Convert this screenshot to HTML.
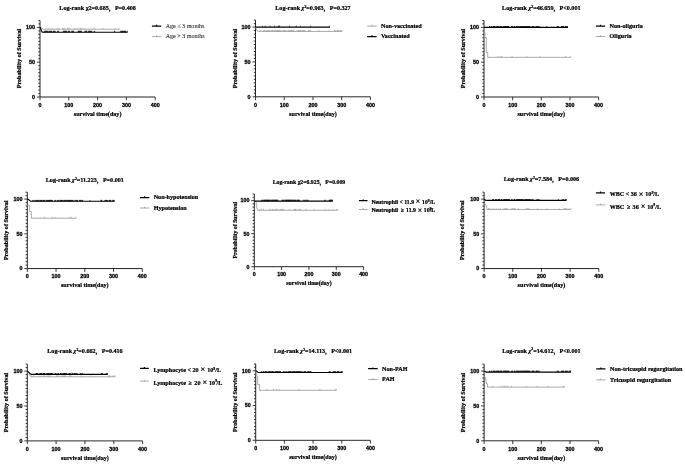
<!DOCTYPE html>
<html><head><meta charset="utf-8"><title>Survival curves</title>
<style>
html,body{margin:0;padding:0;background:#fff}
svg{display:block}
text{white-space:pre}
.tk{font-family:"Liberation Sans", sans-serif;font-weight:bold;fill:#000;stroke:#000;stroke-width:0.27px}
.lb{font-family:"Liberation Serif","Noto Serif CJK SC",serif;font-weight:bold;fill:#000;stroke:#000;stroke-width:0.22px}
.lgn{font-family:"Liberation Serif", serif;font-size:6.05px;fill:#333;stroke:#333;stroke-width:0.1px}
</style></head><body>
<svg width="685" height="465" viewBox="0 0 685 465">
<defs><filter id="bl" x="0" y="0" width="685" height="465" filterUnits="userSpaceOnUse"><feGaussianBlur stdDeviation="0.36"/></filter></defs>
<rect width="685" height="465" fill="#fff"/>
<g filter="url(#bl)">
<g>
<path d="M40.00 20.44V97.00H155.20" fill="none" stroke="#1a1a1a" stroke-width="0.95"/>
<path d="M40.00 97.00h-3.0M40.00 93.52h-1.7M40.00 90.04h-1.7M40.00 86.56h-1.7M40.00 83.08h-1.7M40.00 79.60h-1.7M40.00 76.12h-1.7M40.00 72.64h-1.7M40.00 69.16h-1.7M40.00 65.68h-1.7M40.00 62.20h-3.0M40.00 58.72h-1.7M40.00 55.24h-1.7M40.00 51.76h-1.7M40.00 48.28h-1.7M40.00 44.80h-1.7M40.00 41.32h-1.7M40.00 37.84h-1.7M40.00 34.36h-1.7M40.00 30.88h-1.7M40.00 27.40h-3.0M40.00 23.92h-1.7M40.00 20.44h-1.7M40.00 97.00v3.3M68.80 97.00v3.3M97.60 97.00v3.3M126.40 97.00v3.3M155.20 97.00v3.3" fill="none" stroke="#1a1a1a" stroke-width="0.85"/>
<text transform="translate(35.10 98.89) scale(1 1)" text-anchor="end" class="tk" font-size="5.4">0</text>
<text transform="translate(35.10 64.09) scale(1 1)" text-anchor="end" class="tk" font-size="5.4">50</text>
<text transform="translate(35.10 29.29) scale(1 1)" text-anchor="end" class="tk" font-size="5.4">100</text>
<text transform="translate(40.00 106.60) scale(1 1)" text-anchor="middle" class="tk" font-size="5.4">0</text>
<text transform="translate(68.80 106.60) scale(1 1)" text-anchor="middle" class="tk" font-size="5.4">100</text>
<text transform="translate(97.60 106.60) scale(1 1)" text-anchor="middle" class="tk" font-size="5.4">200</text>
<text transform="translate(126.40 106.60) scale(1 1)" text-anchor="middle" class="tk" font-size="5.4">300</text>
<text transform="translate(155.20 106.60) scale(1 1)" text-anchor="middle" class="tk" font-size="5.4">400</text>
<text transform="translate(97.60 115.80) scale(1 1)" text-anchor="middle" class="lb" font-size="6.12">survival time(day)</text>
<text transform="translate(21.00 58.50) rotate(-90) scale(1 1)" text-anchor="middle" class="lb" font-size="6.12">Probability of Survival</text>
<text transform="translate(97.60 10.20) scale(1 1)" text-anchor="middle" class="lb" font-size="6.12">Log-rank χ2=0.685，P=0.408</text>
<path d="M151.9 26.099999999999998H161.3M156.60 26.099999999999998v-1.3" stroke="#000" stroke-width="1.25" fill="none"/>
<text transform="translate(165.7 27.80) scale(1 1)" class="lgn">Age ≤ 3 months</text>
<path d="M151.9 36.6H161.3M156.60 36.6v-1.3" stroke="#949494" stroke-width="0.8" fill="none"/>
<text transform="translate(165.7 38.40) scale(1 1)" class="lgn">Age &gt; 3 months</text>
<path d="M40.00 27.40L41.15 27.40L41.73 28.44L43.74 29.21L119.20 29.21" stroke="#949494" stroke-width="0.8" fill="none" stroke-linejoin="miter"/>
<path d="M46.05 29.21v-1.35M48.93 29.21v-1.35M52.10 29.21v-1.35M57.57 29.21v-1.35M59.01 29.21v-1.35M62.75 29.21v-1.35M63.62 29.21v-1.35M64.77 29.21v-1.35M67.65 29.21v-1.35M68.51 29.21v-1.35M69.38 29.21v-1.35M74.27 29.21v-1.35M75.71 29.21v-1.35M78.02 29.21v-1.35M80.03 29.21v-1.35M80.90 29.21v-1.35M82.05 29.21v-1.35M84.93 29.21v-1.35M94.72 29.21v-1.35M103.07 29.21v-1.35M114.88 29.21v-1.35M119.20 29.21v-1.35" stroke="#949494" stroke-width="0.6" fill="none"/>
<path d="M40.00 27.40L40.58 28.10L41.44 30.88L42.30 32.20L127.55 32.20" stroke="#000" stroke-width="1.1" fill="none" stroke-linejoin="miter"/>
<path d="M44.32 32.20v-1.4M44.81 32.20v-1.4M45.30 32.20v-1.4M45.79 32.20v-1.4M46.28 32.20v-1.4M46.77 32.20v-1.4M47.26 32.20v-1.4M47.75 32.20v-1.4M48.93 32.20v-1.4M49.42 32.20v-1.4M49.91 32.20v-1.4M50.40 32.20v-1.4M50.89 32.20v-1.4M51.38 32.20v-1.4M51.87 32.20v-1.4M53.25 32.20v-1.4M53.74 32.20v-1.4M54.23 32.20v-1.4M54.72 32.20v-1.4M55.21 32.20v-1.4M57.57 32.20v-1.4M58.06 32.20v-1.4M58.55 32.20v-1.4M63.33 32.20v-1.4M63.82 32.20v-1.4M64.31 32.20v-1.4M64.80 32.20v-1.4M65.29 32.20v-1.4M65.78 32.20v-1.4M66.27 32.20v-1.4M66.76 32.20v-1.4M68.22 32.20v-1.4M68.71 32.20v-1.4M69.20 32.20v-1.4M69.69 32.20v-1.4M71.68 32.20v-1.4M72.17 32.20v-1.4M72.66 32.20v-1.4M73.15 32.20v-1.4M73.64 32.20v-1.4M78.02 32.20v-1.4M78.51 32.20v-1.4M79.00 32.20v-1.4M79.48 32.20v-1.4M79.97 32.20v-1.4M80.46 32.20v-1.4M80.95 32.20v-1.4M81.44 32.20v-1.4M84.93 32.20v-1.4M85.42 32.20v-1.4M85.91 32.20v-1.4M86.40 32.20v-1.4M86.89 32.20v-1.4M88.38 32.20v-1.4M88.87 32.20v-1.4M89.36 32.20v-1.4M89.85 32.20v-1.4M90.34 32.20v-1.4M90.83 32.20v-1.4M91.32 32.20v-1.4M91.81 32.20v-1.4M94.14 32.20v-1.4M94.63 32.20v-1.4M114.30 32.20v-1.4M114.79 32.20v-1.4M120.64 32.20v-1.4M121.13 32.20v-1.4M121.62 32.20v-1.4M122.11 32.20v-1.4M122.60 32.20v-1.4M123.09 32.20v-1.4M123.58 32.20v-1.4M124.07 32.20v-1.4M124.56 32.20v-1.4M125.05 32.20v-1.4M125.54 32.20v-1.4M126.03 32.20v-1.4M127.55 32.20v-1.4" stroke="#000" stroke-width="0.65" fill="none"/>
</g>
<g>
<path d="M255.50 20.13V96.80H370.40" fill="none" stroke="#1a1a1a" stroke-width="0.95"/>
<path d="M255.50 96.80h-3.0M255.50 93.31h-1.7M255.50 89.83h-1.7M255.50 86.34h-1.7M255.50 82.86h-1.7M255.50 79.38h-1.7M255.50 75.89h-1.7M255.50 72.41h-1.7M255.50 68.92h-1.7M255.50 65.44h-1.7M255.50 61.95h-3.0M255.50 58.47h-1.7M255.50 54.98h-1.7M255.50 51.50h-1.7M255.50 48.01h-1.7M255.50 44.53h-1.7M255.50 41.04h-1.7M255.50 37.56h-1.7M255.50 34.07h-1.7M255.50 30.59h-1.7M255.50 27.10h-3.0M255.50 23.62h-1.7M255.50 20.13h-1.7M255.50 96.80v3.3M284.23 96.80v3.3M312.95 96.80v3.3M341.67 96.80v3.3M370.40 96.80v3.3" fill="none" stroke="#1a1a1a" stroke-width="0.85"/>
<text transform="translate(250.60 98.69) scale(1 1)" text-anchor="end" class="tk" font-size="5.4">0</text>
<text transform="translate(250.60 63.84) scale(1 1)" text-anchor="end" class="tk" font-size="5.4">50</text>
<text transform="translate(250.60 28.99) scale(1 1)" text-anchor="end" class="tk" font-size="5.4">100</text>
<text transform="translate(255.50 106.60) scale(1 1)" text-anchor="middle" class="tk" font-size="5.4">0</text>
<text transform="translate(284.23 106.60) scale(1 1)" text-anchor="middle" class="tk" font-size="5.4">100</text>
<text transform="translate(312.95 106.60) scale(1 1)" text-anchor="middle" class="tk" font-size="5.4">200</text>
<text transform="translate(341.67 106.60) scale(1 1)" text-anchor="middle" class="tk" font-size="5.4">300</text>
<text transform="translate(370.40 106.60) scale(1 1)" text-anchor="middle" class="tk" font-size="5.4">400</text>
<text transform="translate(312.95 115.80) scale(1 1)" text-anchor="middle" class="lb" font-size="6.12">survival time(day)</text>
<text transform="translate(236.60 58.50) rotate(-90) scale(1 1)" text-anchor="middle" class="lb" font-size="6.12">Probability of Survival</text>
<text transform="translate(312.95 10.20) scale(1 1)" text-anchor="middle" class="lb" font-size="6.12">Log-rank <tspan font-style="italic">χ</tspan><tspan dy="-2.2" font-size="3.8">2</tspan><tspan dy="2.2">=0.963，P=0.327</tspan></text>
<path d="M367.2 26.099999999999998H376.6M371.90 26.099999999999998v-1.3" stroke="#949494" stroke-width="0.8" fill="none"/>
<text transform="translate(381 27.60) scale(1 1)" class="lb" font-size="6.12">Non-vaccinated</text>
<path d="M367.2 36.5H376.6M371.90 36.5v-1.3" stroke="#000" stroke-width="1.25" fill="none"/>
<text transform="translate(381 38.00) scale(1 1)" class="lb" font-size="6.12">Vaccinated</text>
<path d="M255.50 27.10L256.07 28.49L256.94 30.59L258.37 31.42L342.25 31.42" stroke="#949494" stroke-width="0.8" fill="none" stroke-linejoin="miter"/>
<path d="M260.01 31.42v-1.35M263.54 31.42v-1.35M264.20 31.42v-1.35M264.86 31.42v-1.35M266.30 31.42v-1.35M266.96 31.42v-1.35M267.62 31.42v-1.35M268.28 31.42v-1.35M268.94 31.42v-1.35M269.60 31.42v-1.35M271.21 31.42v-1.35M271.87 31.42v-1.35M272.53 31.42v-1.35M273.19 31.42v-1.35M274.75 31.42v-1.35M275.41 31.42v-1.35M276.07 31.42v-1.35M276.73 31.42v-1.35M277.39 31.42v-1.35M278.05 31.42v-1.35M278.71 31.42v-1.35M279.37 31.42v-1.35M280.03 31.42v-1.35M280.69 31.42v-1.35M282.70 31.42v-1.35M283.36 31.42v-1.35M284.02 31.42v-1.35M284.68 31.42v-1.35M285.35 31.42v-1.35M286.01 31.42v-1.35M288.05 31.42v-1.35M288.71 31.42v-1.35M289.37 31.42v-1.35M290.03 31.42v-1.35M290.69 31.42v-1.35M291.35 31.42v-1.35M292.01 31.42v-1.35M292.67 31.42v-1.35M293.33 31.42v-1.35M293.99 31.42v-1.35M297.15 31.42v-1.35M297.81 31.42v-1.35M298.47 31.42v-1.35M299.13 31.42v-1.35M299.79 31.42v-1.35M300.45 31.42v-1.35M301.12 31.42v-1.35M302.32 31.42v-1.35M302.98 31.42v-1.35M303.64 31.42v-1.35M304.30 31.42v-1.35M304.96 31.42v-1.35M308.35 31.42v-1.35M309.01 31.42v-1.35M309.68 31.42v-1.35M310.34 31.42v-1.35M318.87 31.42v-1.35M329.38 31.42v-1.35M334.29 31.42v-1.35M334.95 31.42v-1.35M335.61 31.42v-1.35M337.08 31.42v-1.35M337.74 31.42v-1.35M338.40 31.42v-1.35M339.06 31.42v-1.35M340.58 31.42v-1.35M341.24 31.42v-1.35M341.90 31.42v-1.35" stroke="#949494" stroke-width="0.6" fill="none"/>
<path d="M255.50 27.10L329.90 27.10" stroke="#000" stroke-width="1.1" fill="none" stroke-linejoin="miter"/>
<path d="M262.39 27.10v-1.4M265.12 27.10v-1.4M270.15 27.10v-1.4M274.63 27.10v-1.4M278.19 27.10v-1.4M278.91 27.10v-1.4M279.63 27.10v-1.4M289.40 27.10v-1.4M296.29 27.10v-1.4M300.31 27.10v-1.4M310.65 27.10v-1.4M329.32 27.10v-1.4" stroke="#000" stroke-width="0.65" fill="none"/>
</g>
<g>
<path d="M484.00 20.44V97.00H598.60" fill="none" stroke="#1a1a1a" stroke-width="0.95"/>
<path d="M484.00 97.00h-3.0M484.00 93.52h-1.7M484.00 90.04h-1.7M484.00 86.56h-1.7M484.00 83.08h-1.7M484.00 79.60h-1.7M484.00 76.12h-1.7M484.00 72.64h-1.7M484.00 69.16h-1.7M484.00 65.68h-1.7M484.00 62.20h-3.0M484.00 58.72h-1.7M484.00 55.24h-1.7M484.00 51.76h-1.7M484.00 48.28h-1.7M484.00 44.80h-1.7M484.00 41.32h-1.7M484.00 37.84h-1.7M484.00 34.36h-1.7M484.00 30.88h-1.7M484.00 27.40h-3.0M484.00 23.92h-1.7M484.00 20.44h-1.7M484.00 97.00v3.3M512.65 97.00v3.3M541.30 97.00v3.3M569.95 97.00v3.3M598.60 97.00v3.3" fill="none" stroke="#1a1a1a" stroke-width="0.85"/>
<text transform="translate(479.10 98.89) scale(1 1)" text-anchor="end" class="tk" font-size="5.4">0</text>
<text transform="translate(479.10 64.09) scale(1 1)" text-anchor="end" class="tk" font-size="5.4">50</text>
<text transform="translate(479.10 29.29) scale(1 1)" text-anchor="end" class="tk" font-size="5.4">100</text>
<text transform="translate(484.00 106.60) scale(1 1)" text-anchor="middle" class="tk" font-size="5.4">0</text>
<text transform="translate(512.65 106.60) scale(1 1)" text-anchor="middle" class="tk" font-size="5.4">100</text>
<text transform="translate(541.30 106.60) scale(1 1)" text-anchor="middle" class="tk" font-size="5.4">200</text>
<text transform="translate(569.95 106.60) scale(1 1)" text-anchor="middle" class="tk" font-size="5.4">300</text>
<text transform="translate(598.60 106.60) scale(1 1)" text-anchor="middle" class="tk" font-size="5.4">400</text>
<text transform="translate(541.30 115.80) scale(1 1)" text-anchor="middle" class="lb" font-size="6.12">survival time(day)</text>
<text transform="translate(464.50 58.50) rotate(-90) scale(1 1)" text-anchor="middle" class="lb" font-size="6.12">Probability of Survival</text>
<text transform="translate(541.30 9.70) scale(1 1)" text-anchor="middle" class="lb" font-size="6.12">Log-rank <tspan font-style="italic">χ</tspan><tspan dy="-2.2" font-size="3.8">2</tspan><tspan dy="2.2">=46.659，P&lt;0.001</tspan></text>
<path d="M595.8 26.099999999999998H605.2M600.50 26.099999999999998v-1.3" stroke="#000" stroke-width="1.25" fill="none"/>
<text transform="translate(609.6 27.60) scale(1 1)" class="lb" font-size="6.12">Non-oliguria</text>
<path d="M595.8 36.5H605.2M600.50 36.5v-1.3" stroke="#949494" stroke-width="0.8" fill="none"/>
<text transform="translate(609.6 38.00) scale(1 1)" class="lb" font-size="6.12">Oliguria</text>
<path d="M484.00 27.40L484.29 32.27L484.86 32.27L484.86 37.49L486.29 37.49L486.29 52.46L487.72 52.46L487.72 57.33L570.81 57.33" stroke="#949494" stroke-width="0.8" fill="none" stroke-linejoin="miter"/>
<path d="M497.75 57.33v-1.35M500.04 57.33v-1.35M501.76 57.33v-1.35M512.08 57.33v-1.35M526.98 57.33v-1.35M539.87 57.33v-1.35M565.65 57.33v-1.35M570.81 57.33v-1.35" stroke="#949494" stroke-width="0.6" fill="none"/>
<path d="M484.00 27.40L567.94 27.40" stroke="#000" stroke-width="1.1" fill="none" stroke-linejoin="miter"/>
<path d="M489.44 27.40v-1.4M489.93 27.40v-1.4M491.45 27.40v-1.4M491.94 27.40v-1.4M493.17 27.40v-1.4M493.66 27.40v-1.4M494.14 27.40v-1.4M494.63 27.40v-1.4M495.12 27.40v-1.4M496.32 27.40v-1.4M496.81 27.40v-1.4M497.29 27.40v-1.4M497.78 27.40v-1.4M498.27 27.40v-1.4M498.75 27.40v-1.4M499.76 27.40v-1.4M500.24 27.40v-1.4M500.73 27.40v-1.4M501.22 27.40v-1.4M501.71 27.40v-1.4M503.20 27.40v-1.4M503.68 27.40v-1.4M504.17 27.40v-1.4M504.66 27.40v-1.4M505.14 27.40v-1.4M505.63 27.40v-1.4M506.12 27.40v-1.4M506.60 27.40v-1.4M507.09 27.40v-1.4M507.58 27.40v-1.4M508.07 27.40v-1.4M508.55 27.40v-1.4M509.04 27.40v-1.4M511.50 27.40v-1.4M511.99 27.40v-1.4M512.48 27.40v-1.4M514.08 27.40v-1.4M514.57 27.40v-1.4M515.06 27.40v-1.4M516.37 27.40v-1.4M516.86 27.40v-1.4M517.35 27.40v-1.4M517.84 27.40v-1.4M518.32 27.40v-1.4M518.81 27.40v-1.4M519.30 27.40v-1.4M520.39 27.40v-1.4M520.87 27.40v-1.4M521.36 27.40v-1.4M521.85 27.40v-1.4M522.33 27.40v-1.4M522.82 27.40v-1.4M523.31 27.40v-1.4M524.11 27.40v-1.4M524.60 27.40v-1.4M525.08 27.40v-1.4M525.57 27.40v-1.4M526.06 27.40v-1.4M526.55 27.40v-1.4M527.03 27.40v-1.4M527.52 27.40v-1.4M528.01 27.40v-1.4M528.49 27.40v-1.4M528.98 27.40v-1.4M529.47 27.40v-1.4M530.70 27.40v-1.4M532.13 27.40v-1.4M532.62 27.40v-1.4M533.11 27.40v-1.4M533.59 27.40v-1.4M534.08 27.40v-1.4M535.86 27.40v-1.4M536.34 27.40v-1.4M536.83 27.40v-1.4M537.32 27.40v-1.4M537.80 27.40v-1.4M538.72 27.40v-1.4M539.21 27.40v-1.4M557.34 27.40v-1.4M557.83 27.40v-1.4M558.32 27.40v-1.4M561.36 27.40v-1.4M561.84 27.40v-1.4M562.33 27.40v-1.4M562.82 27.40v-1.4M563.30 27.40v-1.4M563.79 27.40v-1.4M565.37 27.40v-1.4M565.85 27.40v-1.4M566.34 27.40v-1.4M566.83 27.40v-1.4M567.31 27.40v-1.4M546.74 27.40v-1.4" stroke="#000" stroke-width="0.65" fill="none"/>
</g>
<g>
<path d="M27.30 192.16V268.55H142.30" fill="none" stroke="#1a1a1a" stroke-width="0.95"/>
<path d="M27.30 268.55h-3.0M27.30 265.08h-1.7M27.30 261.61h-1.7M27.30 258.13h-1.7M27.30 254.66h-1.7M27.30 251.19h-1.7M27.30 247.72h-1.7M27.30 244.24h-1.7M27.30 240.77h-1.7M27.30 237.30h-1.7M27.30 233.82h-3.0M27.30 230.35h-1.7M27.30 226.88h-1.7M27.30 223.41h-1.7M27.30 219.94h-1.7M27.30 216.46h-1.7M27.30 212.99h-1.7M27.30 209.52h-1.7M27.30 206.05h-1.7M27.30 202.57h-1.7M27.30 199.10h-3.0M27.30 195.63h-1.7M27.30 192.16h-1.7M27.30 268.55v3.3M56.05 268.55v3.3M84.80 268.55v3.3M113.55 268.55v3.3M142.30 268.55v3.3" fill="none" stroke="#1a1a1a" stroke-width="0.85"/>
<text transform="translate(22.40 270.44) scale(1 1)" text-anchor="end" class="tk" font-size="5.4">0</text>
<text transform="translate(22.40 235.72) scale(1 1)" text-anchor="end" class="tk" font-size="5.4">50</text>
<text transform="translate(22.40 200.99) scale(1 1)" text-anchor="end" class="tk" font-size="5.4">100</text>
<text transform="translate(27.30 278.20) scale(1 1)" text-anchor="middle" class="tk" font-size="5.4">0</text>
<text transform="translate(56.05 278.20) scale(1 1)" text-anchor="middle" class="tk" font-size="5.4">100</text>
<text transform="translate(84.80 278.20) scale(1 1)" text-anchor="middle" class="tk" font-size="5.4">200</text>
<text transform="translate(113.55 278.20) scale(1 1)" text-anchor="middle" class="tk" font-size="5.4">300</text>
<text transform="translate(142.30 278.20) scale(1 1)" text-anchor="middle" class="tk" font-size="5.4">400</text>
<text transform="translate(84.80 287.00) scale(1 1)" text-anchor="middle" class="lb" font-size="6.12">survival time(day)</text>
<text transform="translate(8.00 230.30) rotate(-90) scale(1 1)" text-anchor="middle" class="lb" font-size="6.12">Probability of Survival</text>
<text transform="translate(84.80 181.70) scale(1 1)" text-anchor="middle" class="lb" font-size="6.12">Log-rank <tspan font-style="italic">χ</tspan><tspan dy="-2.2" font-size="3.8">2</tspan><tspan dy="2.2">=11.223，P=0.001</tspan></text>
<path d="M139.9 197.5H149.3M144.60 197.5v-1.3" stroke="#000" stroke-width="1.25" fill="none"/>
<text transform="translate(153.7 199.25) scale(1 1)" class="lb" font-size="6.12">Non-hypotension</text>
<path d="M139.9 208.0H149.3M144.60 208.0v-1.3" stroke="#949494" stroke-width="0.8" fill="none"/>
<text transform="translate(153.7 209.50) scale(1 1)" class="lb" font-size="6.12">Hypotension</text>
<path d="M27.30 205.35L29.60 205.35L29.60 211.60L31.33 211.60L31.33 218.20L76.18 218.20" stroke="#949494" stroke-width="0.8" fill="none" stroke-linejoin="miter"/>
<path d="M44.55 218.20v-1.35M52.03 218.20v-1.35M54.90 218.20v-1.35M69.85 218.20v-1.35M71.29 218.20v-1.35M76.18 218.20v-1.35" stroke="#949494" stroke-width="0.6" fill="none"/>
<path d="M27.30 199.10L28.45 199.45L29.60 200.49L30.75 201.32L114.70 201.32" stroke="#000" stroke-width="1.1" fill="none" stroke-linejoin="miter"/>
<path d="M32.76 201.32v-1.4M33.25 201.32v-1.4M34.77 201.32v-1.4M35.26 201.32v-1.4M36.50 201.32v-1.4M36.99 201.32v-1.4M37.48 201.32v-1.4M37.97 201.32v-1.4M38.46 201.32v-1.4M39.66 201.32v-1.4M40.15 201.32v-1.4M40.64 201.32v-1.4M41.13 201.32v-1.4M41.62 201.32v-1.4M42.11 201.32v-1.4M43.11 201.32v-1.4M43.60 201.32v-1.4M44.09 201.32v-1.4M44.58 201.32v-1.4M45.07 201.32v-1.4M46.56 201.32v-1.4M47.05 201.32v-1.4M47.54 201.32v-1.4M48.03 201.32v-1.4M48.52 201.32v-1.4M49.01 201.32v-1.4M49.50 201.32v-1.4M49.98 201.32v-1.4M50.47 201.32v-1.4M50.96 201.32v-1.4M51.45 201.32v-1.4M51.94 201.32v-1.4M52.43 201.32v-1.4M54.90 201.32v-1.4M55.39 201.32v-1.4M55.88 201.32v-1.4M57.49 201.32v-1.4M57.98 201.32v-1.4M58.47 201.32v-1.4M59.79 201.32v-1.4M60.28 201.32v-1.4M60.77 201.32v-1.4M61.25 201.32v-1.4M61.74 201.32v-1.4M62.23 201.32v-1.4M62.72 201.32v-1.4M63.81 201.32v-1.4M64.30 201.32v-1.4M64.79 201.32v-1.4M65.28 201.32v-1.4M65.77 201.32v-1.4M66.26 201.32v-1.4M66.74 201.32v-1.4M67.55 201.32v-1.4M68.04 201.32v-1.4M68.53 201.32v-1.4M69.02 201.32v-1.4M69.50 201.32v-1.4M69.99 201.32v-1.4M70.48 201.32v-1.4M70.97 201.32v-1.4M71.46 201.32v-1.4M71.95 201.32v-1.4M72.44 201.32v-1.4M72.93 201.32v-1.4M74.16 201.32v-1.4M75.60 201.32v-1.4M76.09 201.32v-1.4M76.58 201.32v-1.4M77.07 201.32v-1.4M77.55 201.32v-1.4M79.34 201.32v-1.4M79.83 201.32v-1.4M80.31 201.32v-1.4M80.80 201.32v-1.4M81.29 201.32v-1.4M82.21 201.32v-1.4M82.70 201.32v-1.4M100.90 201.32v-1.4M101.39 201.32v-1.4M101.88 201.32v-1.4M104.93 201.32v-1.4M105.41 201.32v-1.4M105.90 201.32v-1.4M106.39 201.32v-1.4M106.88 201.32v-1.4M107.37 201.32v-1.4M108.95 201.32v-1.4M109.44 201.32v-1.4M109.93 201.32v-1.4M110.42 201.32v-1.4M110.90 201.32v-1.4M112.69 201.32v-1.4M113.18 201.32v-1.4M113.67 201.32v-1.4M114.15 201.32v-1.4M89.98 201.32v-1.4" stroke="#000" stroke-width="0.65" fill="none"/>
</g>
<g>
<path d="M254.30 193.99V266.70H363.60" fill="none" stroke="#1a1a1a" stroke-width="0.95"/>
<path d="M254.30 266.70h-3.0M254.30 263.39h-1.7M254.30 260.09h-1.7M254.30 256.78h-1.7M254.30 253.48h-1.7M254.30 250.17h-1.7M254.30 246.87h-1.7M254.30 243.56h-1.7M254.30 240.26h-1.7M254.30 236.95h-1.7M254.30 233.65h-3.0M254.30 230.34h-1.7M254.30 227.04h-1.7M254.30 223.73h-1.7M254.30 220.43h-1.7M254.30 217.12h-1.7M254.30 213.82h-1.7M254.30 210.51h-1.7M254.30 207.21h-1.7M254.30 203.91h-1.7M254.30 200.60h-3.0M254.30 197.30h-1.7M254.30 193.99h-1.7M254.30 266.70v3.3M281.62 266.70v3.3M308.95 266.70v3.3M336.28 266.70v3.3M363.60 266.70v3.3" fill="none" stroke="#1a1a1a" stroke-width="0.85"/>
<text transform="translate(249.40 268.56) scale(1 1)" text-anchor="end" class="tk" font-size="5.3">0</text>
<text transform="translate(249.40 235.51) scale(1 1)" text-anchor="end" class="tk" font-size="5.3">50</text>
<text transform="translate(249.40 202.46) scale(1 1)" text-anchor="end" class="tk" font-size="5.3">100</text>
<text transform="translate(254.30 275.60) scale(1 1)" text-anchor="middle" class="tk" font-size="5.3">0</text>
<text transform="translate(281.62 275.60) scale(1 1)" text-anchor="middle" class="tk" font-size="5.3">100</text>
<text transform="translate(308.95 275.60) scale(1 1)" text-anchor="middle" class="tk" font-size="5.3">200</text>
<text transform="translate(336.28 275.60) scale(1 1)" text-anchor="middle" class="tk" font-size="5.3">300</text>
<text transform="translate(363.60 275.60) scale(1 1)" text-anchor="middle" class="tk" font-size="5.3">400</text>
<text transform="translate(308.95 285.00) scale(1 1)" text-anchor="middle" class="lb" font-size="5.8">survival time(day)</text>
<text transform="translate(236.50 230.20) rotate(-90) scale(1 1)" text-anchor="middle" class="lb" font-size="5.8">Probability of Survival</text>
<text transform="translate(308.95 184.30) scale(1 1)" text-anchor="middle" class="lb" font-size="5.8">Log-rank χ2=6.925，P=0.009</text>
<path d="M358.9 200.7H367.5M363.20 200.7v-1.3" stroke="#000" stroke-width="1.25" fill="none"/>
<text transform="translate(371.4 203.80) scale(1 1)" class="lb" font-size="5.75">Neutrophil &lt; 11.9 <tspan font-size="7.59" dx="0.4" dy="0.6">×</tspan><tspan dx="0.4" dy="-0.6"> 10</tspan><tspan dy="-2.2" font-size="3.8">9</tspan><tspan dy="2.2" dx="0.0">/L</tspan></text>
<path d="M358.9 209.5H367.5M363.20 209.5v-1.3" stroke="#949494" stroke-width="0.8" fill="none"/>
<text transform="translate(371.4 212.30) scale(1 1)" class="lb" font-size="5.75">Neutrophil <tspan dx="1.1">≥</tspan><tspan dx="0.85"> 11.9</tspan> <tspan font-size="7.59" dx="0.4" dy="0.6">×</tspan><tspan dx="0.4" dy="-0.6"> 10</tspan><tspan dy="-2.2" font-size="3.8">9</tspan><tspan dy="2.2" dx="-1.8">/L</tspan></text>
<path d="M254.30 200.60L255.94 201.26L256.49 205.89L257.03 208.53L257.85 210.25L337.64 210.25" stroke="#949494" stroke-width="0.8" fill="none" stroke-linejoin="miter"/>
<path d="M259.76 210.25v-1.35M261.13 210.25v-1.35M263.32 210.25v-1.35M269.60 210.25v-1.35M270.15 210.25v-1.35M272.33 210.25v-1.35M273.02 210.25v-1.35M275.07 210.25v-1.35M275.89 210.25v-1.35M276.71 210.25v-1.35M277.25 210.25v-1.35M279.99 210.25v-1.35M280.81 210.25v-1.35M281.62 210.25v-1.35M282.44 210.25v-1.35M283.26 210.25v-1.35M284.08 210.25v-1.35M289.82 210.25v-1.35M294.06 210.25v-1.35M294.74 210.25v-1.35M295.56 210.25v-1.35M296.11 210.25v-1.35M298.98 210.25v-1.35M299.66 210.25v-1.35M300.34 210.25v-1.35M305.94 210.25v-1.35M314.42 210.25v-1.35M324.80 210.25v-1.35M329.06 210.25v-1.35M333.27 210.25v-1.35M336.82 210.25v-1.35M337.64 210.25v-1.35" stroke="#949494" stroke-width="0.6" fill="none"/>
<path d="M254.30 201.13L332.72 201.13" stroke="#000" stroke-width="1.1" fill="none" stroke-linejoin="miter"/>
<path d="M261.81 201.13v-1.4M262.28 201.13v-1.4M262.74 201.13v-1.4M263.86 201.13v-1.4M264.33 201.13v-1.4M264.79 201.13v-1.4M265.26 201.13v-1.4M265.72 201.13v-1.4M266.19 201.13v-1.4M266.65 201.13v-1.4M267.12 201.13v-1.4M267.58 201.13v-1.4M268.04 201.13v-1.4M268.51 201.13v-1.4M268.97 201.13v-1.4M269.44 201.13v-1.4M269.90 201.13v-1.4M270.97 201.13v-1.4M271.43 201.13v-1.4M271.90 201.13v-1.4M272.36 201.13v-1.4M272.83 201.13v-1.4M273.29 201.13v-1.4M273.76 201.13v-1.4M274.22 201.13v-1.4M274.68 201.13v-1.4M275.15 201.13v-1.4M275.61 201.13v-1.4M276.08 201.13v-1.4M276.54 201.13v-1.4M277.01 201.13v-1.4M277.47 201.13v-1.4M277.94 201.13v-1.4M282.17 201.13v-1.4M282.64 201.13v-1.4M283.10 201.13v-1.4M283.57 201.13v-1.4M284.90 201.13v-1.4M285.37 201.13v-1.4M285.83 201.13v-1.4M286.30 201.13v-1.4M286.76 201.13v-1.4M287.23 201.13v-1.4M287.69 201.13v-1.4M288.16 201.13v-1.4M288.62 201.13v-1.4M289.08 201.13v-1.4M289.55 201.13v-1.4M290.01 201.13v-1.4M290.48 201.13v-1.4M290.94 201.13v-1.4M291.41 201.13v-1.4M291.87 201.13v-1.4M292.34 201.13v-1.4M293.37 201.13v-1.4M293.84 201.13v-1.4M294.30 201.13v-1.4M294.77 201.13v-1.4M295.23 201.13v-1.4M295.70 201.13v-1.4M296.93 201.13v-1.4M297.39 201.13v-1.4M297.86 201.13v-1.4M298.32 201.13v-1.4M298.79 201.13v-1.4M299.25 201.13v-1.4M303.76 201.13v-1.4M304.22 201.13v-1.4M305.67 201.13v-1.4M306.14 201.13v-1.4M307.58 201.13v-1.4M308.05 201.13v-1.4M324.80 201.13v-1.4M325.26 201.13v-1.4M329.17 201.13v-1.4M329.64 201.13v-1.4M330.10 201.13v-1.4M330.56 201.13v-1.4M331.03 201.13v-1.4M331.49 201.13v-1.4M331.96 201.13v-1.4M332.42 201.13v-1.4" stroke="#000" stroke-width="0.65" fill="none"/>
</g>
<g>
<path d="M484.10 192.16V268.55H598.80" fill="none" stroke="#1a1a1a" stroke-width="0.95"/>
<path d="M484.10 268.55h-3.0M484.10 265.08h-1.7M484.10 261.61h-1.7M484.10 258.13h-1.7M484.10 254.66h-1.7M484.10 251.19h-1.7M484.10 247.72h-1.7M484.10 244.24h-1.7M484.10 240.77h-1.7M484.10 237.30h-1.7M484.10 233.82h-3.0M484.10 230.35h-1.7M484.10 226.88h-1.7M484.10 223.41h-1.7M484.10 219.94h-1.7M484.10 216.46h-1.7M484.10 212.99h-1.7M484.10 209.52h-1.7M484.10 206.05h-1.7M484.10 202.57h-1.7M484.10 199.10h-3.0M484.10 195.63h-1.7M484.10 192.16h-1.7M484.10 268.55v3.3M512.77 268.55v3.3M541.45 268.55v3.3M570.12 268.55v3.3M598.80 268.55v3.3" fill="none" stroke="#1a1a1a" stroke-width="0.85"/>
<text transform="translate(479.20 270.44) scale(1 1)" text-anchor="end" class="tk" font-size="5.4">0</text>
<text transform="translate(479.20 235.72) scale(1 1)" text-anchor="end" class="tk" font-size="5.4">50</text>
<text transform="translate(479.20 200.99) scale(1 1)" text-anchor="end" class="tk" font-size="5.4">100</text>
<text transform="translate(484.10 278.20) scale(1 1)" text-anchor="middle" class="tk" font-size="5.4">0</text>
<text transform="translate(512.77 278.20) scale(1 1)" text-anchor="middle" class="tk" font-size="5.4">100</text>
<text transform="translate(541.45 278.20) scale(1 1)" text-anchor="middle" class="tk" font-size="5.4">200</text>
<text transform="translate(570.12 278.20) scale(1 1)" text-anchor="middle" class="tk" font-size="5.4">300</text>
<text transform="translate(598.80 278.20) scale(1 1)" text-anchor="middle" class="tk" font-size="5.4">400</text>
<text transform="translate(541.45 287.00) scale(1 1)" text-anchor="middle" class="lb" font-size="6.12">survival time(day)</text>
<text transform="translate(464.30 230.30) rotate(-90) scale(1 1)" text-anchor="middle" class="lb" font-size="6.12">Probability of Survival</text>
<text transform="translate(541.45 181.40) scale(1 1)" text-anchor="middle" class="lb" font-size="6.12">Log-rank <tspan font-style="italic">χ</tspan><tspan dy="-2.2" font-size="3.8">2</tspan><tspan dy="2.2">=7.584，P=0.006</tspan></text>
<path d="M595.9 192.89999999999998H605.1M600.50 192.89999999999998v-1.3" stroke="#000" stroke-width="1.25" fill="none"/>
<text transform="translate(609.7 196.40) scale(1 1)" class="lb" font-size="6.1">WBC &lt; 36 <tspan font-size="8.05" dx="0.4" dy="0.6">×</tspan><tspan dx="0.4" dy="-0.6"> 10</tspan><tspan dy="-2.2" font-size="3.8">9</tspan><tspan dy="2.2" dx="0.0">/L</tspan></text>
<path d="M595.9 204.89999999999998H605.1M600.50 204.89999999999998v-1.3" stroke="#949494" stroke-width="0.8" fill="none"/>
<text transform="translate(609.7 208.60) scale(1 1)" class="lb" font-size="6.1">WBC <tspan dx="1.1">≥</tspan><tspan dx="0.85"> 36</tspan> <tspan font-size="8.05" dx="0.4" dy="0.6">×</tspan><tspan dx="0.4" dy="-0.6"> 10</tspan><tspan dy="-2.2" font-size="3.8">9</tspan><tspan dy="2.2" dx="0.15">/L</tspan></text>
<path d="M484.10 203.27L484.96 203.96L485.82 204.66L486.39 207.43L487.25 209.52L570.99 209.52" stroke="#949494" stroke-width="0.8" fill="none" stroke-linejoin="miter"/>
<path d="M488.52 209.52v-1.35M489.63 209.52v-1.35M491.99 209.52v-1.35M494.11 209.52v-1.35M496.20 209.52v-1.35M498.29 209.52v-1.35M500.39 209.52v-1.35M503.89 209.52v-1.35M504.75 209.52v-1.35M505.61 209.52v-1.35M506.47 209.52v-1.35M507.33 209.52v-1.35M511.63 209.52v-1.35M512.49 209.52v-1.35M513.35 209.52v-1.35M514.21 209.52v-1.35M515.07 209.52v-1.35M518.51 209.52v-1.35M526.25 209.52v-1.35M527.11 209.52v-1.35M528.12 209.52v-1.35M529.06 209.52v-1.35M537.44 209.52v-1.35M547.18 209.52v-1.35M559.11 209.52v-1.35M563.99 209.52v-1.35M564.96 209.52v-1.35M565.82 209.52v-1.35M566.80 209.52v-1.35M568.89 209.52v-1.35M570.99 209.52v-1.35" stroke="#949494" stroke-width="0.6" fill="none"/>
<path d="M484.10 199.10L484.96 199.79L485.82 200.42L566.40 200.42" stroke="#000" stroke-width="1.1" fill="none" stroke-linejoin="miter"/>
<path d="M492.70 200.42v-1.4M493.19 200.42v-1.4M493.68 200.42v-1.4M495.57 200.42v-1.4M496.06 200.42v-1.4M496.54 200.42v-1.4M498.01 200.42v-1.4M498.49 200.42v-1.4M498.98 200.42v-1.4M499.47 200.42v-1.4M501.02 200.42v-1.4M501.51 200.42v-1.4M501.99 200.42v-1.4M503.60 200.42v-1.4M504.09 200.42v-1.4M504.57 200.42v-1.4M505.06 200.42v-1.4M505.55 200.42v-1.4M506.04 200.42v-1.4M506.52 200.42v-1.4M507.01 200.42v-1.4M507.50 200.42v-1.4M507.99 200.42v-1.4M508.47 200.42v-1.4M508.96 200.42v-1.4M509.45 200.42v-1.4M511.63 200.42v-1.4M512.12 200.42v-1.4M513.92 200.42v-1.4M514.41 200.42v-1.4M514.90 200.42v-1.4M516.50 200.42v-1.4M516.99 200.42v-1.4M517.48 200.42v-1.4M517.97 200.42v-1.4M518.45 200.42v-1.4M518.94 200.42v-1.4M519.43 200.42v-1.4M519.92 200.42v-1.4M520.40 200.42v-1.4M520.89 200.42v-1.4M521.38 200.42v-1.4M521.86 200.42v-1.4M522.35 200.42v-1.4M522.84 200.42v-1.4M523.33 200.42v-1.4M524.82 200.42v-1.4M525.31 200.42v-1.4M525.79 200.42v-1.4M526.28 200.42v-1.4M526.77 200.42v-1.4M527.26 200.42v-1.4M527.74 200.42v-1.4M528.23 200.42v-1.4M528.72 200.42v-1.4M529.21 200.42v-1.4M529.69 200.42v-1.4M530.73 200.42v-1.4M531.21 200.42v-1.4M532.56 200.42v-1.4M533.05 200.42v-1.4M536.75 200.42v-1.4M537.23 200.42v-1.4M538.58 200.42v-1.4M539.07 200.42v-1.4M558.37 200.42v-1.4M562.67 200.42v-1.4M563.16 200.42v-1.4M563.64 200.42v-1.4M565.39 200.42v-1.4M565.88 200.42v-1.4M566.37 200.42v-1.4" stroke="#000" stroke-width="0.65" fill="none"/>
</g>
<g>
<path d="M27.30 364.12V440.90H142.60" fill="none" stroke="#1a1a1a" stroke-width="0.95"/>
<path d="M27.30 440.90h-3.0M27.30 437.41h-1.7M27.30 433.92h-1.7M27.30 430.43h-1.7M27.30 426.94h-1.7M27.30 423.45h-1.7M27.30 419.96h-1.7M27.30 416.47h-1.7M27.30 412.98h-1.7M27.30 409.49h-1.7M27.30 406.00h-3.0M27.30 402.51h-1.7M27.30 399.02h-1.7M27.30 395.53h-1.7M27.30 392.04h-1.7M27.30 388.55h-1.7M27.30 385.06h-1.7M27.30 381.57h-1.7M27.30 378.08h-1.7M27.30 374.59h-1.7M27.30 371.10h-3.0M27.30 367.61h-1.7M27.30 364.12h-1.7M27.30 440.90v3.3M56.12 440.90v3.3M84.95 440.90v3.3M113.78 440.90v3.3M142.60 440.90v3.3" fill="none" stroke="#1a1a1a" stroke-width="0.85"/>
<text transform="translate(22.40 442.79) scale(1 1)" text-anchor="end" class="tk" font-size="5.4">0</text>
<text transform="translate(22.40 407.89) scale(1 1)" text-anchor="end" class="tk" font-size="5.4">50</text>
<text transform="translate(22.40 372.99) scale(1 1)" text-anchor="end" class="tk" font-size="5.4">100</text>
<text transform="translate(27.30 450.70) scale(1 1)" text-anchor="middle" class="tk" font-size="5.4">0</text>
<text transform="translate(56.12 450.70) scale(1 1)" text-anchor="middle" class="tk" font-size="5.4">100</text>
<text transform="translate(84.95 450.70) scale(1 1)" text-anchor="middle" class="tk" font-size="5.4">200</text>
<text transform="translate(113.78 450.70) scale(1 1)" text-anchor="middle" class="tk" font-size="5.4">300</text>
<text transform="translate(142.60 450.70) scale(1 1)" text-anchor="middle" class="tk" font-size="5.4">400</text>
<text transform="translate(84.95 459.60) scale(1 1)" text-anchor="middle" class="lb" font-size="6.12">survival time(day)</text>
<text transform="translate(8.00 402.50) rotate(-90) scale(1 1)" text-anchor="middle" class="lb" font-size="6.12">Probability of Survival</text>
<text transform="translate(84.95 353.10) scale(1 1)" text-anchor="middle" class="lb" font-size="6.12">Log-rank <tspan font-style="italic">χ</tspan><tspan dy="-2.2" font-size="3.8">2</tspan><tspan dy="2.2">=0.662，P=0.416</tspan></text>
<path d="M140.0 368.3H148.8M144.40 368.3v-1.3" stroke="#000" stroke-width="1.25" fill="none"/>
<text transform="translate(153.4 371.80) scale(1 1)" class="lb" font-size="6.17">Lymphocyte &lt; 20 <tspan font-size="8.14" dx="0.4" dy="0.6">×</tspan><tspan dx="0.4" dy="-0.6"> 10</tspan><tspan dy="-2.2" font-size="3.8">9</tspan><tspan dy="2.2" dx="0.0">/L</tspan></text>
<path d="M140.0 381.09999999999997H148.8M144.40 381.09999999999997v-1.3" stroke="#949494" stroke-width="0.8" fill="none"/>
<text transform="translate(153.4 384.60) scale(1 1)" class="lb" font-size="6.17">Lymphocyte <tspan dx="1.1">≥</tspan><tspan dx="0.85"> 20</tspan> <tspan font-size="8.14" dx="0.4" dy="0.6">×</tspan><tspan dx="0.4" dy="-0.6"> 10</tspan><tspan dy="-2.2" font-size="3.8">9</tspan><tspan dy="2.2" dx="-0.45">/L</tspan></text>
<path d="M27.30 371.10L28.74 373.19L30.18 375.99L30.76 376.75L115.22 376.75" stroke="#949494" stroke-width="0.8" fill="none" stroke-linejoin="miter"/>
<path d="M31.74 376.75v-1.35M33.41 376.75v-1.35M39.00 376.75v-1.35M41.11 376.75v-1.35M43.21 376.75v-1.35M44.59 376.75v-1.35M47.42 376.75v-1.35M48.34 376.75v-1.35M49.21 376.75v-1.35M50.22 376.75v-1.35M56.53 376.75v-1.35M57.57 376.75v-1.35M58.63 376.75v-1.35M61.72 376.75v-1.35M62.75 376.75v-1.35M63.91 376.75v-1.35M64.77 376.75v-1.35M65.64 376.75v-1.35M69.56 376.75v-1.35M70.39 376.75v-1.35M71.26 376.75v-1.35M81.06 376.75v-1.35M90.86 376.75v-1.35M108.38 376.75v-1.35M109.45 376.75v-1.35M110.49 376.75v-1.35M112.59 376.75v-1.35M114.41 376.75v-1.35M115.22 376.75v-1.35" stroke="#949494" stroke-width="0.6" fill="none"/>
<path d="M27.30 371.10L28.45 371.80L29.61 373.19L31.05 374.38L107.72 374.38" stroke="#000" stroke-width="1.1" fill="none" stroke-linejoin="miter"/>
<path d="M35.95 374.38v-1.4M36.44 374.38v-1.4M36.93 374.38v-1.4M37.42 374.38v-1.4M37.91 374.38v-1.4M39.69 374.38v-1.4M40.18 374.38v-1.4M40.67 374.38v-1.4M41.16 374.38v-1.4M41.65 374.38v-1.4M42.95 374.38v-1.4M43.44 374.38v-1.4M43.93 374.38v-1.4M44.42 374.38v-1.4M44.91 374.38v-1.4M46.73 374.38v-1.4M47.22 374.38v-1.4M47.71 374.38v-1.4M48.20 374.38v-1.4M48.69 374.38v-1.4M49.18 374.38v-1.4M49.67 374.38v-1.4M50.16 374.38v-1.4M50.65 374.38v-1.4M51.14 374.38v-1.4M51.63 374.38v-1.4M52.12 374.38v-1.4M52.61 374.38v-1.4M55.12 374.38v-1.4M55.61 374.38v-1.4M56.10 374.38v-1.4M57.94 374.38v-1.4M58.43 374.38v-1.4M60.30 374.38v-1.4M60.79 374.38v-1.4M61.28 374.38v-1.4M62.84 374.38v-1.4M63.33 374.38v-1.4M63.82 374.38v-1.4M64.31 374.38v-1.4M64.80 374.38v-1.4M65.29 374.38v-1.4M65.78 374.38v-1.4M66.27 374.38v-1.4M66.76 374.38v-1.4M68.72 374.38v-1.4M69.21 374.38v-1.4M69.70 374.38v-1.4M70.19 374.38v-1.4M71.95 374.38v-1.4M72.44 374.38v-1.4M72.93 374.38v-1.4M74.34 374.38v-1.4M74.83 374.38v-1.4M75.32 374.38v-1.4M76.59 374.38v-1.4M77.08 374.38v-1.4M80.34 374.38v-1.4M80.83 374.38v-1.4M82.21 374.38v-1.4M82.70 374.38v-1.4M101.38 374.38v-1.4M101.87 374.38v-1.4M102.36 374.38v-1.4M106.28 374.38v-1.4M106.77 374.38v-1.4M107.26 374.38v-1.4" stroke="#000" stroke-width="0.65" fill="none"/>
</g>
<g>
<path d="M255.70 363.85V440.30H370.40" fill="none" stroke="#1a1a1a" stroke-width="0.95"/>
<path d="M255.70 440.30h-3.0M255.70 436.82h-1.7M255.70 433.35h-1.7M255.70 429.88h-1.7M255.70 426.40h-1.7M255.70 422.93h-1.7M255.70 419.45h-1.7M255.70 415.98h-1.7M255.70 412.50h-1.7M255.70 409.03h-1.7M255.70 405.55h-3.0M255.70 402.08h-1.7M255.70 398.60h-1.7M255.70 395.12h-1.7M255.70 391.65h-1.7M255.70 388.18h-1.7M255.70 384.70h-1.7M255.70 381.23h-1.7M255.70 377.75h-1.7M255.70 374.28h-1.7M255.70 370.80h-3.0M255.70 367.33h-1.7M255.70 363.85h-1.7M255.70 440.30v3.3M284.38 440.30v3.3M313.05 440.30v3.3M341.72 440.30v3.3M370.40 440.30v3.3" fill="none" stroke="#1a1a1a" stroke-width="0.85"/>
<text transform="translate(250.80 442.19) scale(1 1)" text-anchor="end" class="tk" font-size="5.4">0</text>
<text transform="translate(250.80 407.44) scale(1 1)" text-anchor="end" class="tk" font-size="5.4">50</text>
<text transform="translate(250.80 372.69) scale(1 1)" text-anchor="end" class="tk" font-size="5.4">100</text>
<text transform="translate(255.70 450.10) scale(1 1)" text-anchor="middle" class="tk" font-size="5.4">0</text>
<text transform="translate(284.38 450.10) scale(1 1)" text-anchor="middle" class="tk" font-size="5.4">100</text>
<text transform="translate(313.05 450.10) scale(1 1)" text-anchor="middle" class="tk" font-size="5.4">200</text>
<text transform="translate(341.72 450.10) scale(1 1)" text-anchor="middle" class="tk" font-size="5.4">300</text>
<text transform="translate(370.40 450.10) scale(1 1)" text-anchor="middle" class="tk" font-size="5.4">400</text>
<text transform="translate(313.05 459.00) scale(1 1)" text-anchor="middle" class="lb" font-size="6.12">survival time(day)</text>
<text transform="translate(237.40 402.30) rotate(-90) scale(1 1)" text-anchor="middle" class="lb" font-size="6.12">Probability of Survival</text>
<text transform="translate(313.05 352.80) scale(1 1)" text-anchor="middle" class="lb" font-size="6.12">Log-rank <tspan font-style="italic">χ</tspan><tspan dy="-2.2" font-size="3.8">2</tspan><tspan dy="2.2">=14.113，P&lt;0.001</tspan></text>
<path d="M368.1 368.7H377.7M372.90 368.7v-1.3" stroke="#000" stroke-width="1.25" fill="none"/>
<text transform="translate(382.1 370.50) scale(1 1)" class="lb" font-size="6.12">Non-PAH</text>
<path d="M368.1 379.5H377.7M372.90 379.5v-1.3" stroke="#949494" stroke-width="0.8" fill="none"/>
<text transform="translate(382.1 381.30) scale(1 1)" class="lb" font-size="6.12">PAH</text>
<path d="M255.70 370.80L256.27 375.67L257.71 376.36L257.71 384.70L259.43 384.70L259.43 390.26L336.56 390.26" stroke="#949494" stroke-width="0.8" fill="none" stroke-linejoin="miter"/>
<path d="M266.60 390.26v-1.35M273.48 390.26v-1.35M276.35 390.26v-1.35M279.21 390.26v-1.35M298.71 390.26v-1.35M319.93 390.26v-1.35M335.42 390.26v-1.35M336.56 390.26v-1.35" stroke="#949494" stroke-width="0.6" fill="none"/>
<path d="M255.70 370.80L256.56 371.15L257.42 372.05L258.57 372.54L342.59 372.54" stroke="#000" stroke-width="1.1" fill="none" stroke-linejoin="miter"/>
<path d="M261.15 372.54v-1.4M261.64 372.54v-1.4M263.16 372.54v-1.4M263.64 372.54v-1.4M264.88 372.54v-1.4M265.36 372.54v-1.4M265.85 372.54v-1.4M266.34 372.54v-1.4M266.83 372.54v-1.4M268.03 372.54v-1.4M268.52 372.54v-1.4M269.01 372.54v-1.4M269.49 372.54v-1.4M269.98 372.54v-1.4M270.47 372.54v-1.4M271.47 372.54v-1.4M271.96 372.54v-1.4M272.45 372.54v-1.4M272.93 372.54v-1.4M273.42 372.54v-1.4M274.91 372.54v-1.4M275.40 372.54v-1.4M275.89 372.54v-1.4M276.37 372.54v-1.4M276.86 372.54v-1.4M277.35 372.54v-1.4M277.84 372.54v-1.4M278.32 372.54v-1.4M278.81 372.54v-1.4M279.30 372.54v-1.4M279.79 372.54v-1.4M280.27 372.54v-1.4M280.76 372.54v-1.4M283.23 372.54v-1.4M283.72 372.54v-1.4M284.20 372.54v-1.4M285.81 372.54v-1.4M286.30 372.54v-1.4M286.78 372.54v-1.4M288.10 372.54v-1.4M288.59 372.54v-1.4M289.08 372.54v-1.4M289.57 372.54v-1.4M290.05 372.54v-1.4M290.54 372.54v-1.4M291.03 372.54v-1.4M292.12 372.54v-1.4M292.60 372.54v-1.4M293.09 372.54v-1.4M293.58 372.54v-1.4M294.07 372.54v-1.4M294.55 372.54v-1.4M295.04 372.54v-1.4M295.84 372.54v-1.4M296.33 372.54v-1.4M296.82 372.54v-1.4M297.31 372.54v-1.4M297.79 372.54v-1.4M298.28 372.54v-1.4M298.77 372.54v-1.4M299.26 372.54v-1.4M299.74 372.54v-1.4M300.23 372.54v-1.4M300.72 372.54v-1.4M301.21 372.54v-1.4M302.44 372.54v-1.4M303.87 372.54v-1.4M304.36 372.54v-1.4M304.85 372.54v-1.4M305.34 372.54v-1.4M305.82 372.54v-1.4M307.60 372.54v-1.4M308.09 372.54v-1.4M308.58 372.54v-1.4M309.06 372.54v-1.4M309.55 372.54v-1.4M310.47 372.54v-1.4M310.96 372.54v-1.4M329.11 372.54v-1.4M329.60 372.54v-1.4M330.08 372.54v-1.4M333.12 372.54v-1.4M333.61 372.54v-1.4M334.10 372.54v-1.4M334.58 372.54v-1.4M335.07 372.54v-1.4M335.56 372.54v-1.4M337.14 372.54v-1.4M337.62 372.54v-1.4M338.11 372.54v-1.4M338.60 372.54v-1.4M339.09 372.54v-1.4M340.86 372.54v-1.4M341.35 372.54v-1.4M341.84 372.54v-1.4M342.33 372.54v-1.4" stroke="#000" stroke-width="0.65" fill="none"/>
</g>
<g>
<path d="M484.10 364.13V440.80H598.60" fill="none" stroke="#1a1a1a" stroke-width="0.95"/>
<path d="M484.10 440.80h-3.0M484.10 437.31h-1.7M484.10 433.83h-1.7M484.10 430.35h-1.7M484.10 426.86h-1.7M484.10 423.38h-1.7M484.10 419.89h-1.7M484.10 416.41h-1.7M484.10 412.92h-1.7M484.10 409.44h-1.7M484.10 405.95h-3.0M484.10 402.47h-1.7M484.10 398.98h-1.7M484.10 395.50h-1.7M484.10 392.01h-1.7M484.10 388.53h-1.7M484.10 385.04h-1.7M484.10 381.56h-1.7M484.10 378.07h-1.7M484.10 374.59h-1.7M484.10 371.10h-3.0M484.10 367.62h-1.7M484.10 364.13h-1.7M484.10 440.80v3.3M512.73 440.80v3.3M541.35 440.80v3.3M569.98 440.80v3.3M598.60 440.80v3.3" fill="none" stroke="#1a1a1a" stroke-width="0.85"/>
<text transform="translate(479.20 442.69) scale(1 1)" text-anchor="end" class="tk" font-size="5.4">0</text>
<text transform="translate(479.20 407.84) scale(1 1)" text-anchor="end" class="tk" font-size="5.4">50</text>
<text transform="translate(479.20 372.99) scale(1 1)" text-anchor="end" class="tk" font-size="5.4">100</text>
<text transform="translate(484.10 450.70) scale(1 1)" text-anchor="middle" class="tk" font-size="5.4">0</text>
<text transform="translate(512.73 450.70) scale(1 1)" text-anchor="middle" class="tk" font-size="5.4">100</text>
<text transform="translate(541.35 450.70) scale(1 1)" text-anchor="middle" class="tk" font-size="5.4">200</text>
<text transform="translate(569.98 450.70) scale(1 1)" text-anchor="middle" class="tk" font-size="5.4">300</text>
<text transform="translate(598.60 450.70) scale(1 1)" text-anchor="middle" class="tk" font-size="5.4">400</text>
<text transform="translate(541.35 459.60) scale(1 1)" text-anchor="middle" class="lb" font-size="6.12">survival time(day)</text>
<text transform="translate(465.20 402.50) rotate(-90) scale(1 1)" text-anchor="middle" class="lb" font-size="6.12">Probability of Survival</text>
<text transform="translate(541.35 352.50) scale(1 1)" text-anchor="middle" class="lb" font-size="6.12">Log-rank <tspan font-style="italic">χ</tspan><tspan dy="-2.2" font-size="3.8">2</tspan><tspan dy="2.2">=14.612，P&lt;0.001</tspan></text>
<path d="M596.2 368.8H605.5M600.85 368.8v-1.3" stroke="#000" stroke-width="1.25" fill="none"/>
<text transform="translate(610.1 370.50) scale(1 1)" class="lb" font-size="6.12">Non-tricuspid regurgitation</text>
<path d="M596.2 379.9H605.5M600.85 379.9v-1.3" stroke="#949494" stroke-width="0.8" fill="none"/>
<text transform="translate(610.1 381.60) scale(1 1)" class="lb" font-size="6.12">Tricuspid regurgitation</text>
<path d="M484.10 375.98L484.67 376.68L485.53 377.37L486.39 383.65L487.54 383.65L487.54 387.13L564.54 387.13" stroke="#949494" stroke-width="0.8" fill="none" stroke-linejoin="miter"/>
<path d="M492.69 387.13v-1.35M500.70 387.13v-1.35M502.99 387.13v-1.35M504.71 387.13v-1.35M506.43 387.13v-1.35M508.15 387.13v-1.35M511.58 387.13v-1.35M526.47 387.13v-1.35M537.06 387.13v-1.35M547.65 387.13v-1.35M563.11 387.13v-1.35M564.54 387.13v-1.35" stroke="#949494" stroke-width="0.6" fill="none"/>
<path d="M484.10 371.10L484.96 371.45L486.39 372.08L570.83 372.08" stroke="#000" stroke-width="1.1" fill="none" stroke-linejoin="miter"/>
<path d="M489.54 372.08v-1.4M490.03 372.08v-1.4M491.54 372.08v-1.4M492.03 372.08v-1.4M493.26 372.08v-1.4M493.75 372.08v-1.4M494.23 372.08v-1.4M494.72 372.08v-1.4M495.21 372.08v-1.4M496.41 372.08v-1.4M496.90 372.08v-1.4M497.38 372.08v-1.4M497.87 372.08v-1.4M498.36 372.08v-1.4M498.84 372.08v-1.4M499.84 372.08v-1.4M500.33 372.08v-1.4M500.82 372.08v-1.4M501.30 372.08v-1.4M501.79 372.08v-1.4M503.28 372.08v-1.4M503.77 372.08v-1.4M504.25 372.08v-1.4M504.74 372.08v-1.4M505.23 372.08v-1.4M505.71 372.08v-1.4M506.20 372.08v-1.4M506.69 372.08v-1.4M507.17 372.08v-1.4M507.66 372.08v-1.4M508.15 372.08v-1.4M508.63 372.08v-1.4M509.12 372.08v-1.4M511.58 372.08v-1.4M512.07 372.08v-1.4M512.55 372.08v-1.4M514.16 372.08v-1.4M514.64 372.08v-1.4M515.13 372.08v-1.4M516.45 372.08v-1.4M516.93 372.08v-1.4M517.42 372.08v-1.4M517.91 372.08v-1.4M518.39 372.08v-1.4M518.88 372.08v-1.4M519.37 372.08v-1.4M520.45 372.08v-1.4M520.94 372.08v-1.4M521.43 372.08v-1.4M521.91 372.08v-1.4M522.40 372.08v-1.4M522.89 372.08v-1.4M523.37 372.08v-1.4M524.18 372.08v-1.4M524.66 372.08v-1.4M525.15 372.08v-1.4M525.63 372.08v-1.4M526.12 372.08v-1.4M526.61 372.08v-1.4M527.09 372.08v-1.4M527.58 372.08v-1.4M528.07 372.08v-1.4M528.55 372.08v-1.4M529.04 372.08v-1.4M529.53 372.08v-1.4M530.76 372.08v-1.4M532.19 372.08v-1.4M532.68 372.08v-1.4M533.16 372.08v-1.4M533.65 372.08v-1.4M534.14 372.08v-1.4M535.91 372.08v-1.4M536.40 372.08v-1.4M536.88 372.08v-1.4M537.37 372.08v-1.4M537.86 372.08v-1.4M538.77 372.08v-1.4M539.26 372.08v-1.4M557.38 372.08v-1.4M557.87 372.08v-1.4M558.35 372.08v-1.4M561.39 372.08v-1.4M561.87 372.08v-1.4M562.36 372.08v-1.4M562.85 372.08v-1.4M563.33 372.08v-1.4M563.82 372.08v-1.4M565.39 372.08v-1.4M565.88 372.08v-1.4M566.37 372.08v-1.4M566.85 372.08v-1.4M567.34 372.08v-1.4M569.12 372.08v-1.4M569.60 372.08v-1.4M570.09 372.08v-1.4M570.58 372.08v-1.4" stroke="#000" stroke-width="0.65" fill="none"/>
</g>
</g>
</svg>
</body></html>
